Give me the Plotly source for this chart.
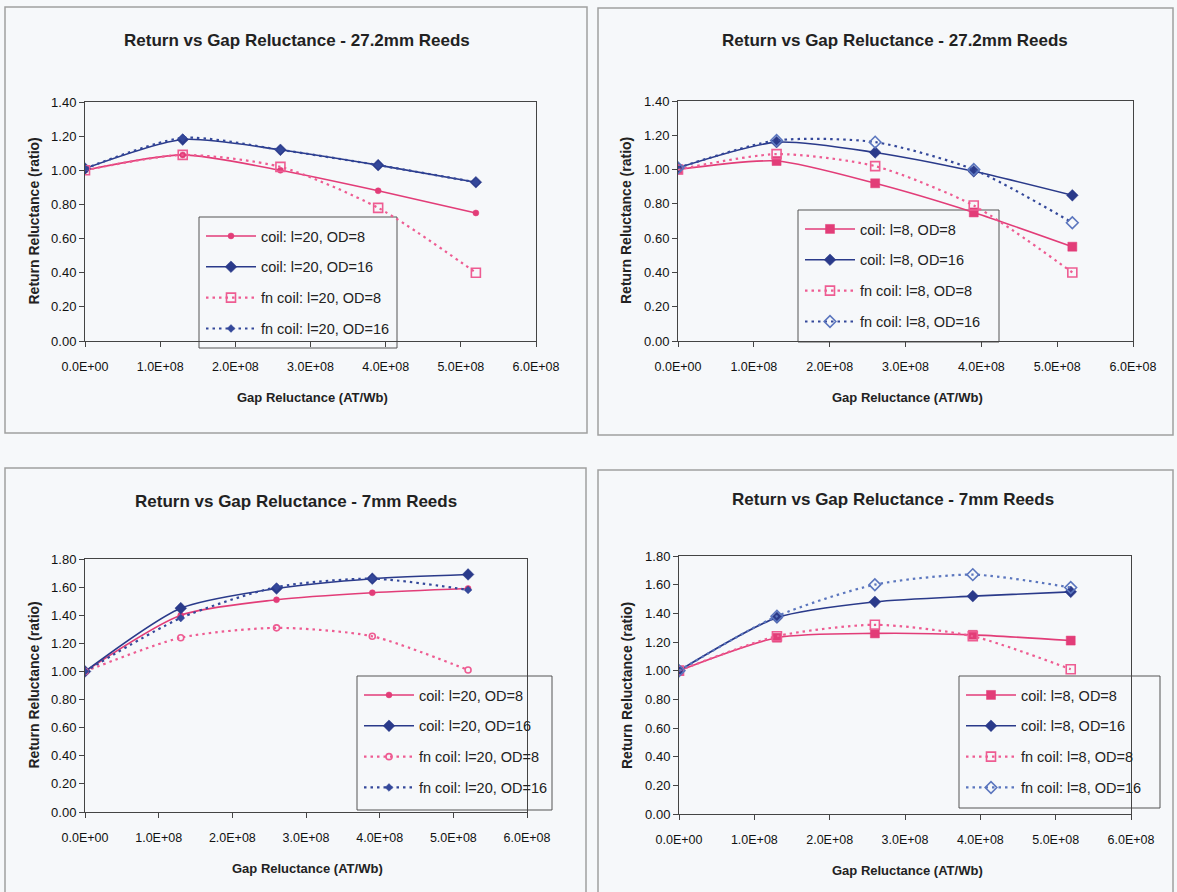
import plotly.graph_objects as go

# ---------------- data ----------------
x_gap = [0, 1.3e8, 2.6e8, 3.9e8, 5.2e8]
x_tick_vals = [0, 1e8, 2e8, 3e8, 4e8, 5e8, 6e8]
x_tick_text = ["0.0E+00", "1.0E+08", "2.0E+08", "3.0E+08", "4.0E+08", "5.0E+08", "6.0E+08"]

titles = ["Return vs Gap Reluctance - 27.2mm Reeds", "Return vs Gap Reluctance - 27.2mm Reeds",
          "Return vs Gap Reluctance - 7mm Reeds", "Return vs Gap Reluctance - 7mm Reeds"]
x_title = "Gap Reluctance (AT/Wb)"
y_title = "Return Reluctance (ratio)"

names_l20 = ["coil: l=20, OD=8", "coil: l=20, OD=16", "fn coil: l=20, OD=8", "fn coil: l=20, OD=16"]
names_l8 = ["coil: l=8, OD=8", "coil: l=8, OD=16", "fn coil: l=8, OD=8", "fn coil: l=8, OD=16"]

# 27.2mm reeds, l=20 (top left)
tl_coil_od8 = [1.00, 1.09, 1.00, 0.88, 0.75]
tl_coil_od16 = [1.01, 1.18, 1.12, 1.03, 0.93]
tl_fn_od8 = [1.00, 1.09, 1.02, 0.78, 0.40]
tl_fn_od16 = [1.01, 1.19, 1.12, 1.03, 0.93]

# 27.2mm reeds, l=8 (top right)
tr_coil_od8 = [1.00, 1.05, 0.92, 0.75, 0.55]
tr_coil_od16 = [1.01, 1.16, 1.10, 0.99, 0.85]
tr_fn_od8 = [1.00, 1.09, 1.02, 0.79, 0.40]
tr_fn_od16 = [1.01, 1.17, 1.16, 1.00, 0.69]

# 7mm reeds, l=20 (bottom left)
bl_coil_od8 = [1.00, 1.40, 1.51, 1.56, 1.59]
bl_coil_od16 = [1.00, 1.45, 1.59, 1.66, 1.69]
bl_fn_od8 = [1.00, 1.24, 1.31, 1.25, 1.01]
bl_fn_od16 = [1.00, 1.38, 1.60, 1.66, 1.58]

# 7mm reeds, l=8 (bottom right)
br_coil_od8 = [1.00, 1.23, 1.26, 1.25, 1.21]
br_coil_od16 = [1.00, 1.37, 1.48, 1.52, 1.55]
br_fn_od8 = [1.00, 1.24, 1.32, 1.24, 1.01]
br_fn_od16 = [1.00, 1.38, 1.60, 1.67, 1.58]

# ---------------- styling ----------------
W, H = 1177, 892
BG = "#F6F8FA"
PINK = "#E23D78"
PINK_DOT = "#EE5C92"
BLUE = "#2A3A8A"
BLUE_DOT = "#34489A"
BLUE_OPEN = "#5B76BE"
FONT = "Liberation Sans, Arial, sans-serif"
DOT = "2.5px,4px"

def px(x):
    return x / W

def py(y):
    return 1 - y / H

# plot area boxes in pixels: (left, right, top, bottom)
areas = [(85, 536, 102, 341), (678, 1133, 101, 341), (85, 527, 559, 812), (679, 1131, 556, 814)]
yranges = [[0, 1.4], [0, 1.4], [0, 1.8], [0, 1.8]]
panels = [(5, 587, 7, 433), (598, 1173, 8, 435), (5, 586, 468, 895), (598, 1173, 470, 895)]
title_pos = [(297, 40), (895, 40), (296, 502), (893, 500)]
legend_boxes = [(199, 397, 217, 348), (798, 999, 210, 342), (357, 552, 676, 810), (959, 1160, 676, 808)]

panel_series = [
    (names_l20, [tl_coil_od8, tl_coil_od16, tl_fn_od8, tl_fn_od16],
     [("circle", 6, PINK), ("diamond", 9, BLUE), ("square-open", 9, PINK_DOT), ("diamond", 6, BLUE_DOT)],
     [PINK, BLUE, PINK_DOT, BLUE_DOT]),
    (names_l8, [tr_coil_od8, tr_coil_od16, tr_fn_od8, tr_fn_od16],
     [("square", 9, PINK), ("diamond", 9, BLUE), ("square-open", 9, PINK_DOT), ("diamond-open", 9, BLUE_OPEN)],
     [PINK, BLUE, PINK_DOT, BLUE_DOT]),
    (names_l20, [bl_coil_od8, bl_coil_od16, bl_fn_od8, bl_fn_od16],
     [("circle", 6, PINK), ("diamond", 9, BLUE), ("circle-open", 6, PINK_DOT), ("diamond", 6, BLUE_DOT)],
     [PINK, BLUE, PINK_DOT, BLUE_DOT]),
    (names_l8, [br_coil_od8, br_coil_od16, br_fn_od8, br_fn_od16],
     [("square", 9, PINK), ("diamond", 9, BLUE), ("square-open", 9, PINK_DOT), ("diamond-open", 9, BLUE_OPEN)],
     [PINK, BLUE, PINK_DOT, BLUE_OPEN]),
]
line_styles = [("solid", 1.6), ("solid", 1.6), (DOT, 2.2), (DOT, 2.2)]

fig = go.Figure()
layout = dict(width=W, height=H, margin=dict(l=0, r=0, t=0, b=0, pad=0, autoexpand=False),
              paper_bgcolor=BG, plot_bgcolor=BG, font=dict(family=FONT, color="#111111"),
              showlegend=True, template="none")
shapes = []
annotations = []

for i in range(4):
    sfx = "" if i == 0 else str(i + 1)
    xa, ya = "x" + sfx, "y" + sfx
    leg = "legend" + sfx
    l, r, t, b = areas[i]
    layout["xaxis" + sfx] = dict(domain=[px(l), px(r)], range=[0, 6e8], anchor=ya, automargin=False,
                                 tickvals=x_tick_vals, ticktext=x_tick_text,
                                 showline=True, linecolor="#444444", linewidth=1, mirror=True,
                                 ticks="outside", ticklen=5, tickcolor="#444444",
                                 showgrid=False, zeroline=False, ticklabelstandoff=9,
                                 tickfont=dict(size=12.5, family=FONT, color="#111111"))
    layout["yaxis" + sfx] = dict(domain=[py(b), py(t)], range=yranges[i], anchor=xa, automargin=False,
                                 dtick=0.2, tick0=0, tickformat=".2f",
                                 showline=True, linecolor="#444444", linewidth=1, mirror=True,
                                 ticks="outside", ticklen=5, tickcolor="#444444",
                                 showgrid=False, zeroline=False,
                                 tickfont=dict(size=13, family=FONT, color="#111111"))
    names, ys, markers, lcolors = panel_series[i]
    for k in range(4):
        sym, size, mcol = markers[k]
        dash, lw = line_styles[k]
        open_marker = sym.endswith("open")
        fig.add_trace(go.Scatter(
            x=x_gap, y=ys[k], name=names[k], xaxis=xa, yaxis=ya, legend=leg,
            legendgroup=f"p{i}s{k}", mode="lines+markers",
            line=dict(color=lcolors[k], width=lw, dash=dash, shape="spline", smoothing=0.7),
            marker=dict(symbol=sym, size=size, color=mcol,
                        line=dict(color=mcol, width=1.6 if open_marker else 0.5)),
        ))
    lb = legend_boxes[i]
    layout[leg] = dict(x=px(lb[0] + 2), y=py(lb[2] + 3), xanchor="left", yanchor="top",
                       bgcolor="rgba(0,0,0,0)", borderwidth=0, tracegroupgap=9,
                       font=dict(size=14.5, family=FONT, color="#222222"), itemwidth=50)
    shapes.append(dict(type="rect", xref="paper", yref="paper",
                       x0=px(lb[0]), x1=px(lb[1]), y0=py(lb[3]), y1=py(lb[2]),
                       line=dict(color="#555555", width=1), fillcolor=BG, layer="below"))
    p = panels[i]
    shapes.append(dict(type="rect", xref="paper", yref="paper",
                       x0=px(p[0]), x1=px(p[1]), y0=py(p[3]), y1=py(p[2]),
                       line=dict(color="#A0A0A0", width=1.5), fillcolor="rgba(0,0,0,0)", layer="below"))
    tx, ty = title_pos[i]
    annotations.append(dict(text="<b>" + titles[i] + "</b>", x=px(tx), y=py(ty), xref="paper", yref="paper",
                            showarrow=False, xanchor="center", yanchor="middle",
                            font=dict(size=17, family=FONT, color="#222222")))
    annotations.append(dict(text="<b>" + x_title + "</b>", x=px((l + r) / 2 + 2), y=py(b + 56),
                            xref="paper", yref="paper", showarrow=False, xanchor="center", yanchor="middle",
                            font=dict(size=13, family=FONT, color="#222222")))
    annotations.append(dict(text="<b>" + y_title + "</b>", x=px(l - 52), y=py((t + b) / 2), textangle=-90,
                            xref="paper", yref="paper", showarrow=False, xanchor="center", yanchor="middle",
                            font=dict(size=14, family=FONT, color="#222222")))

layout["shapes"] = shapes
layout["annotations"] = annotations
fig.update_layout(**layout)
fig.write_html("out.html", config={"displayModeBar": False},
               post_script="document.body.style.margin='0';document.body.style.overflow='hidden';")
